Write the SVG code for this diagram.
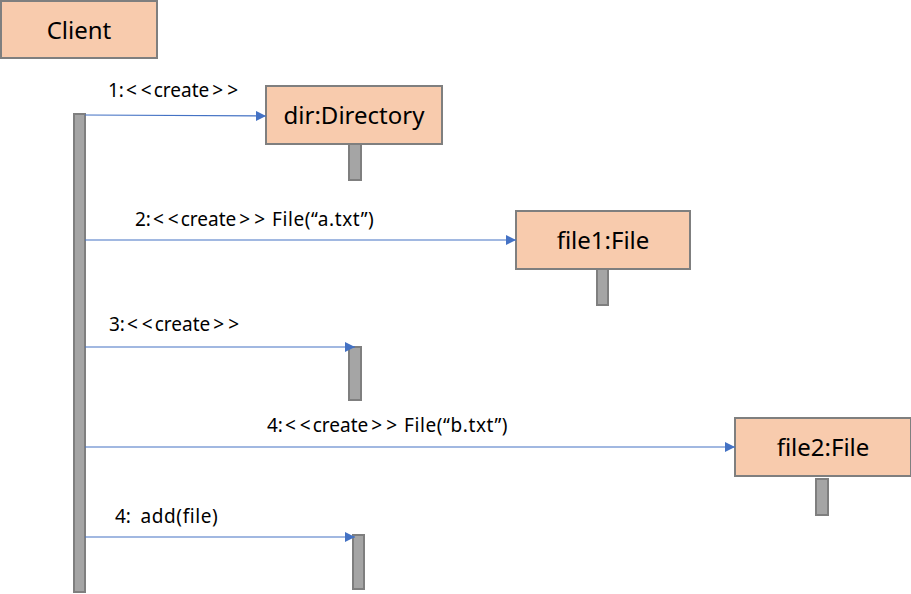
<svg xmlns="http://www.w3.org/2000/svg" width="911" height="594" viewBox="0 0 911 594">
<style>
.obj{fill:#F8CBAD;stroke:#7F7F7F;stroke-width:2}
.bar{fill:#A5A5A5;stroke:#7F7F7F;stroke-width:2}
.name{font-family:"Noto Sans","Open Sans",sans-serif;font-size:24px;fill:#000;text-anchor:middle}
.lbl{font-family:"Noto Sans","Open Sans",sans-serif;font-size:19px;fill:#000}
.wide{letter-spacing:0.6px}
.msg{stroke:#4472C4;stroke-width:1.2;fill:none;marker-end:url(#ah)}
</style>
<defs>
<marker id="ah" viewBox="0 0 10 10" refX="10" refY="5" markerWidth="10" markerHeight="10" markerUnits="userSpaceOnUse" orient="auto">
<path d="M0,0 L10,5 L0,10 z" fill="#4472C4"/>
</marker>
</defs>
<rect width="911" height="594" fill="#fff"/>
<g id="client">
<rect class="obj" x="1" y="1" width="156" height="57"/>
<text class="name" x="79" y="39">Client</text>
<rect class="bar" x="74" y="114" width="11" height="478"/>
</g>
<g id="dir">
<rect class="obj" x="266" y="86" width="176" height="58"/>
<text class="name" x="354" y="124">dir:Directory</text>
<rect class="bar" x="349" y="144" width="12" height="36"/>
</g>
<g id="file1">
<rect class="obj" x="516" y="211" width="174" height="58"/>
<text class="name" x="603" y="249">file1:File</text>
<rect class="bar" x="597" y="269" width="11" height="36"/>
</g>
<g id="file2">
<rect class="obj" x="735" y="418" width="176" height="58"/>
<text class="name" x="823" y="456">file2:File</text>
<rect class="bar" x="816" y="479" width="12" height="36"/>
</g>
<g id="act3">
<rect class="bar" x="349" y="347" width="12" height="53"/>
</g>
<g id="act5">
<rect class="bar" x="353" y="535" width="11" height="54"/>
</g>
<g id="connectors">
<line class="msg" x1="85" y1="115" x2="266" y2="116"/>
<line class="msg" x1="85" y1="240" x2="516" y2="240"/>
<line class="msg" x1="85" y1="347" x2="355" y2="347"/>
<line class="msg" x1="85" y1="447" x2="735" y2="447"/>
<line class="msg" x1="85" y1="537" x2="355" y2="537"/>
</g>
<g id="labels">
<text class="lbl" x="108" y="97">1:<tspan dx="2">&lt;</tspan><tspan dx="4">&lt;</tspan><tspan dx="2">create</tspan><tspan dx="3">&gt;</tspan><tspan dx="4">&gt;</tspan></text>
<text class="lbl" x="135" y="226">2:<tspan dx="2">&lt;</tspan><tspan dx="4">&lt;</tspan><tspan dx="2">create</tspan><tspan dx="3">&gt;</tspan><tspan dx="4">&gt;</tspan><tspan dx="7" class="wide">File(“a.txt”)</tspan></text>
<text class="lbl" x="109" y="331">3:<tspan dx="2">&lt;</tspan><tspan dx="4">&lt;</tspan><tspan dx="2">create</tspan><tspan dx="3">&gt;</tspan><tspan dx="4">&gt;</tspan></text>
<text class="lbl" x="267" y="432">4:<tspan dx="2">&lt;</tspan><tspan dx="4">&lt;</tspan><tspan dx="2">create</tspan><tspan dx="3">&gt;</tspan><tspan dx="4">&gt;</tspan><tspan dx="7" class="wide">File(“b.txt”)</tspan></text>
<text class="lbl" x="115" y="523">4:<tspan dx="4" class="wide"> add(file)</tspan></text>
</g>
</svg>
